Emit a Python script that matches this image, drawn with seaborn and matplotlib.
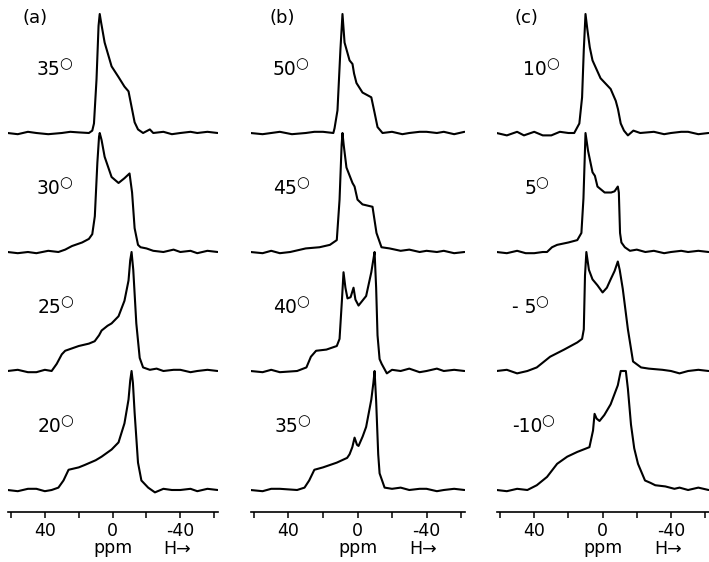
import numpy as np
import matplotlib.pyplot as plt
import seaborn as sns

# --- traces: chemical shift (ppm) and relative intensity ---
# panel (a)
a35_ppm = [62, 56, 50, 45, 38, 30, 25, 20, 14, 12, 11, 9.5, 8.3, 7.6, 6.8, 4.7, 0.6, -3.5, -7, -9.4, -11.2, -13, -15, -18, -22, -24, -30, -35, -40, -46, -50, -56, -62]
a35_int = [0, -0.01, 0.01, 0, -0.01, 0, 0.01, 0.005, 0, 0.02, 0.08, 0.45, 0.9, 1.0, 0.93, 0.76, 0.56, 0.47, 0.39, 0.35, 0.22, 0.09, 0.03, 0.0, 0.03, 0.0, 0.01, -0.01, 0, 0.01, 0, 0.01, 0]
a30_ppm = [62, 56, 50, 45, 38, 32, 28, 24, 18, 14, 12, 10.5, 9, 8, 7.6, 6.5, 4.7, 0.6, -3.5, -7, -10, -11.5, -13, -15, -16.5, -20, -24, -30, -36, -40, -46, -50, -56, -62]
a30_int = [0, -0.01, 0, -0.01, 0.01, 0, 0.02, 0.05, 0.08, 0.11, 0.15, 0.3, 0.75, 0.97, 1.0, 0.94, 0.8, 0.63, 0.58, 0.62, 0.66, 0.5, 0.2, 0.06, 0.04, 0.03, 0.01, 0, 0.02, 0, 0.01, -0.01, 0.01, 0]
a25_ppm = [62, 56, 50, 45, 40, 36, 33, 30, 28, 24, 20, 14, 10.6, 8, 6.5, 3, 0.6, -3.5, -7, -9.4, -10.4, -11.2, -12.2, -14, -16, -18, -22, -26, -30, -36, -40, -46, -50, -56, -62]
a25_int = [0, 0.01, -0.01, -0.01, 0.01, 0, 0.06, 0.14, 0.17, 0.19, 0.21, 0.23, 0.25, 0.3, 0.34, 0.38, 0.4, 0.46, 0.59, 0.76, 0.93, 1.0, 0.85, 0.4, 0.11, 0.03, 0.01, 0.02, 0, 0.01, 0.01, -0.01, 0, 0.01, 0]
a20_ppm = [62, 56, 50, 45, 40, 36, 32, 29, 26, 20, 16.5, 10, 6.5, 0.6, -3.5, -7, -9.4, -10.4, -11.2, -12, -13, -15, -17, -21, -25, -30, -35, -40, -46, -50, -56, -62]
a20_int = [0, -0.01, 0.01, 0.01, -0.01, 0, 0.02, 0.08, 0.17, 0.19, 0.21, 0.25, 0.28, 0.34, 0.4, 0.56, 0.76, 0.92, 1.0, 0.9, 0.65, 0.23, 0.08, 0.02, -0.02, 0.01, 0, 0, 0.01, -0.01, 0.01, 0]

# panel (b)
b50_ppm = [62, 55, 50, 45, 38, 30, 25, 20, 14, 13.3, 11.6, 9.9, 8.7, 7.5, 4.6, 2.9, 2, 0.6, -2.9, -8, -9.9, -11.6, -14.5, -20, -26, -30, -36, -40, -46, -50, -56, -62]
b50_int = [0, -0.01, 0, 0.01, -0.01, 0, 0.01, 0.01, 0, 0.04, 0.19, 0.7, 1.0, 0.76, 0.61, 0.58, 0.5, 0.42, 0.34, 0.3, 0.17, 0.05, 0.0, 0.01, -0.01, 0, 0.01, 0.01, 0, 0.01, -0.01, 0.01]
b45_ppm = [62, 55, 50, 45, 39, 30, 22, 16, 12, 10.4, 9.2, 8.7, 8, 6.4, 2.9, 1.7, 0, -2.9, -8.7, -11, -13.9, -18.6, -25, -30, -36, -40, -46, -50, -56, -62]
b45_int = [0, -0.01, 0.01, -0.01, 0, 0.03, 0.04, 0.06, 0.1, 0.44, 0.9, 1.0, 0.9, 0.71, 0.58, 0.55, 0.44, 0.4, 0.38, 0.16, 0.04, 0.03, 0.01, 0.02, 0, 0.01, 0, 0.01, -0.01, 0]
b40_ppm = [62, 55, 50, 45, 35, 29.6, 27, 24, 18, 12, 10.4, 9, 8.1, 7, 5.8, 4, 2.3, 1.2, -0.6, -5, -8, -9, -9.9, -10.8, -11.6, -12.8, -14, -17, -20, -25, -30, -36, -40, -46, -50, -56, -62]
b40_int = [0, -0.01, 0.01, -0.01, 0, 0.03, 0.12, 0.17, 0.18, 0.21, 0.27, 0.6, 0.83, 0.7, 0.61, 0.62, 0.7, 0.6, 0.55, 0.63, 0.83, 0.92, 1.0, 0.7, 0.3, 0.1, 0.06, -0.02, 0.01, 0, 0.02, -0.01, 0, 0.02, 0, 0.01, 0]
b35_ppm = [62, 55, 50, 45, 35, 30.7, 28, 25, 20, 12, 6, 4.6, 3, 1.7, 0.3, -0.6, -3, -5, -8, -9.2, -9.9, -10.8, -12, -12.8, -15.7, -20, -25, -30, -36, -40, -46, -50, -56, -62]
b35_int = [0, -0.01, 0.01, 0.01, 0, 0.02, 0.08, 0.17, 0.19, 0.23, 0.27, 0.3, 0.36, 0.44, 0.38, 0.37, 0.45, 0.53, 0.76, 0.9, 1.0, 0.75, 0.3, 0.14, 0.02, 0.01, 0.02, 0, 0.01, 0.01, -0.01, 0, 0.01, 0]

# panel (c)
c10_ppm = [62, 56, 50, 46, 40, 35, 30, 25, 20, 16.6, 13.6, 12, 11, 10, 9, 7.5, 5.9, 1.2, -4.7, -7.7, -9, -10.6, -12.5, -14.8, -18, -22, -30, -36, -40, -46, -50, -56, -62]
c10_int = [0, -0.02, 0.01, -0.02, 0.01, -0.02, -0.02, 0.01, 0, 0, 0.08, 0.3, 0.7, 1.0, 0.88, 0.72, 0.61, 0.46, 0.37, 0.27, 0.2, 0.08, 0.02, -0.02, 0.02, 0, 0.01, -0.01, 0, 0.01, 0.01, -0.01, 0]
c5_ppm = [62, 56, 50, 45, 40, 35, 32.5, 29.6, 26.6, 20, 14.8, 12.4, 11.2, 10, 8.5, 5.9, 4.5, 3, -1.2, -5, -7, -8.9, -9.5, -10.2, -11, -13, -16, -20, -25, -30, -36, -40, -46, -50, -56, -62]
c5_int = [0, -0.01, 0.01, -0.01, -0.01, 0, 0, 0.04, 0.06, 0.08, 0.1, 0.16, 0.45, 1.0, 0.85, 0.67, 0.64, 0.55, 0.5, 0.5, 0.51, 0.55, 0.5, 0.16, 0.08, 0.04, 0.01, 0.02, 0, 0.01, -0.01, 0, 0.01, 0, 0.01, 0]
cm5_ppm = [62, 56, 50, 44, 38.5, 30.7, 22.5, 14.8, 12, 11, 10.3, 9.5, 8, 5.9, 3, 0, -2.5, -4.7, -7, -8.9, -10, -11.8, -14.8, -17.8, -22.5, -27, -35, -40, -45, -50, -56, -62]
cm5_int = [0, 0.01, -0.02, 0, 0.03, 0.12, 0.18, 0.24, 0.27, 0.35, 0.8, 1.0, 0.85, 0.77, 0.72, 0.66, 0.7, 0.77, 0.84, 0.92, 0.85, 0.69, 0.35, 0.08, 0.03, 0.02, 0.01, 0, -0.02, 0, 0.01, 0]
cm10_ppm = [62, 56, 50, 44, 38.5, 32.5, 26.6, 20.7, 14.8, 7.7, 5.6, 4.7, 3.5, 1.8, -1, -4.7, -8.9, -10.6, -13.6, -14.8, -16.6, -18.5, -20.7, -24.8, -28, -30.8, -36.7, -42, -45, -50, -56, -62]
cm10_int = [0, -0.01, 0.01, 0, 0.04, 0.11, 0.22, 0.28, 0.32, 0.36, 0.5, 0.64, 0.6, 0.58, 0.63, 0.72, 0.88, 1.0, 1.0, 0.85, 0.55, 0.35, 0.22, 0.08, 0.06, 0.04, 0.03, 0.01, 0.02, 0.0, 0.02, 0]

temps_a = ['35', '30', '25', '20']
temps_b = ['50', '45', '40', '35']
temps_c = ['10', '5', '- 5', '-10']

tick_pos = [60, 40, 20, 0, -20, -40, -60]
tick_lab = ['', '40', '', '0', '', '-40', '']

sns.set_style('white')
plt.rcParams['font.family'] = ['DejaVu Sans']
plt.rcParams['text.color'] = 'black'
plt.rcParams['xtick.color'] = 'black'

W, H = 709, 562
fig = plt.figure(figsize=(W / 100, H / 100), dpi=100)
renderer = fig.canvas.get_renderer()

# (panel label, left px, width px, traces top->bottom, temps, x of temp labels in ppm, label x px)
panels = [
    ('(a)', 7.6, 210, [(a35_ppm, a35_int), (a30_ppm, a30_int), (a25_ppm, a25_int), (a20_ppm, a20_int)],
     temps_a, [45, 45, 44.5, 44.5], 35),
    ('(b)', 250.5, 214, [(b50_ppm, b50_int), (b45_ppm, b45_int), (b40_ppm, b40_int), (b35_ppm, b35_int)],
     temps_b, [49, 49, 49, 48], 282),
    ('(c)', 496.6, 212, [(c10_ppm, c10_int), (c5_ppm, c5_int), (cm5_ppm, cm5_int), (cm10_ppm, cm10_int)],
     temps_c, [46.5, 45.5, 53, 53], 526),
]

unit = 119.0          # px per unit intensity / trace spacing
axis_y = 512          # px from top where the ppm axis sits
ybot = -22 / unit

for name, left, width, traces, temps, tx, name_x in panels:
    ax = fig.add_axes([left / W, (H - axis_y) / H, width / W, axis_y / H])
    ax.set_xlim(62, -62)
    ax.set_ylim(ybot, ybot + axis_y / unit)
    for k, (ppm, inten) in enumerate(traces):
        off = 3 - k
        sns.lineplot(x=ppm, y=np.asarray(inten) + off, ax=ax, color='black',
                     lw=1.5, sort=False, estimator=None)
        t = ax.text(tx[k], off + 0.53, temps[k], fontsize=13.5,
                    ha='left', va='center')
        bb = t.get_window_extent(renderer)
        # open circle degree sign, raised above the digits
        fig.text((bb.x1 - 1) / W, (bb.y1 - 3) / H, '○', fontsize=10.5,
                 ha='left', va='center')
    ax.set_xticks(tick_pos)
    ax.set_xticklabels(tick_lab, fontsize=12.5)
    ax.set_yticks([])
    ax.set_xlabel('')
    ax.set_ylabel('')
    for s in ['top', 'left', 'right']:
        ax.spines[s].set_visible(False)
    ax.spines['bottom'].set_linewidth(1.2)
    ax.spines['bottom'].set_color('black')
    ax.tick_params(axis='x', direction='out', length=4, width=1.1, pad=3,
                   bottom=True, colors='black')
    ax.patch.set_alpha(0)
    ax.annotate('ppm', xy=(-0.5, 0), xycoords=('data', 'axes fraction'),
                xytext=(0, -26), textcoords='offset points',
                ha='center', va='center', fontsize=12.5)
    ax.annotate('H→', xy=(-38, 0), xycoords=('data', 'axes fraction'),
                xytext=(0, -27), textcoords='offset points',
                ha='center', va='center', fontsize=12.5)
    fig.text(name_x / W, 1 - 18 / H, name, fontsize=13, ha='center', va='center')

fig.savefig('out.png', dpi=100)
